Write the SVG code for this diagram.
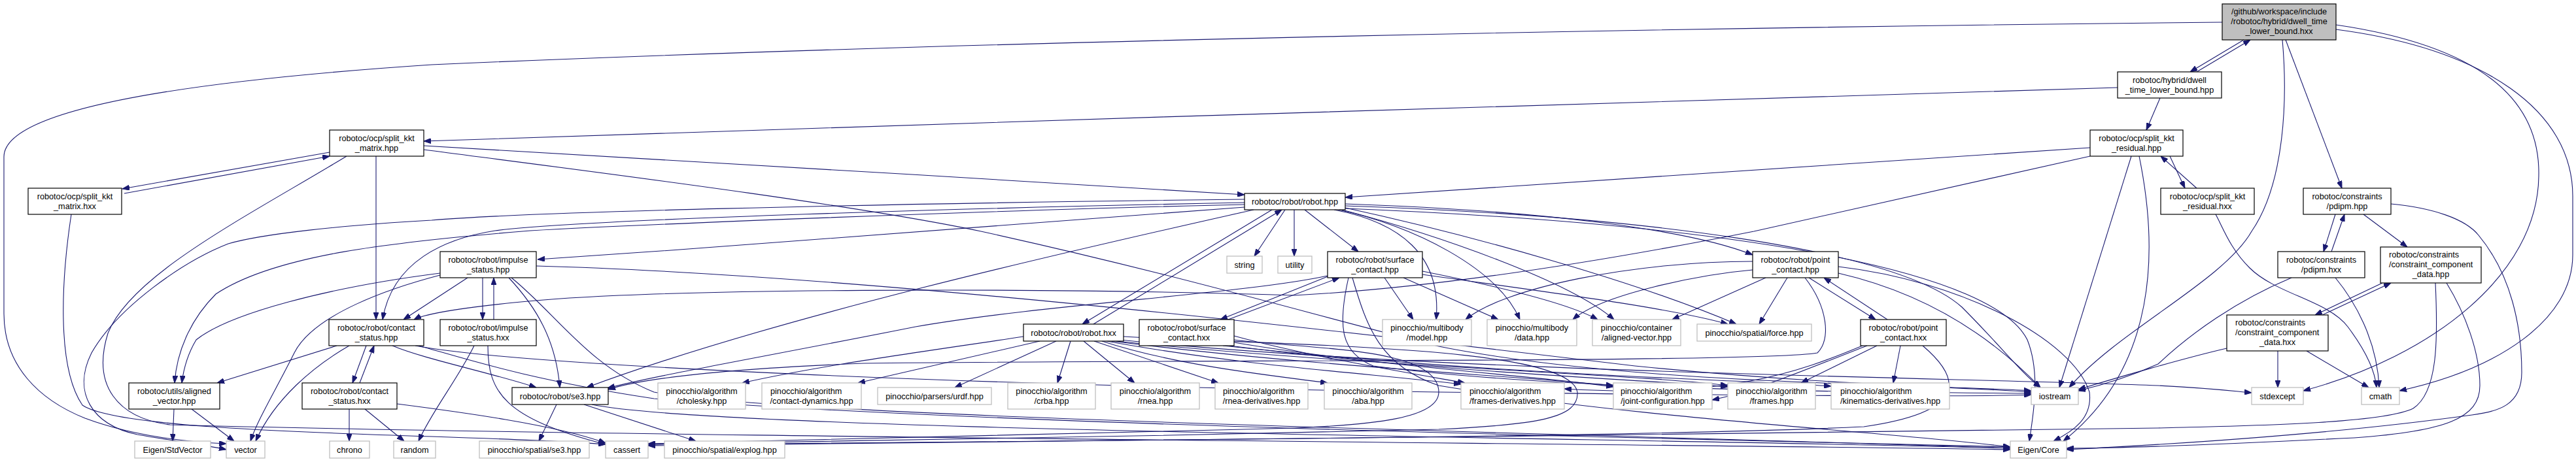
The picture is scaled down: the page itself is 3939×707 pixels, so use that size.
<svg xmlns="http://www.w3.org/2000/svg" width="3939" height="707" viewBox="0 0 3939 707">
<defs>
<marker id="ah" viewBox="0 0 11 8" refX="11" refY="4" markerWidth="11" markerHeight="8" markerUnits="userSpaceOnUse" orient="auto"><path d="M0,0L11,4L0,8z" fill="#191970" stroke="#191970" stroke-width="1"/></marker>
</defs>
<style>
.e path{fill:none;stroke:#191970;stroke-width:1.1;marker-end:url(#ah)}
rect.p{fill:#ffffff;stroke:#000000;stroke-width:1.2}
rect.x{fill:#ffffff;stroke:#bfbfbf;stroke-width:1.3}
rect.r{fill:#bfbfbf;stroke:#000000;stroke-width:1.2}
text{font-family:"Liberation Sans",Arial,Helvetica,sans-serif;font-size:12.7px;fill:#000000;text-anchor:middle}
text.l{text-anchor:start}
</style>
<rect x="0" y="0" width="3939" height="707" fill="#ffffff"/>
<g id="edges" class="e">
<path d="M3431,61 L3349,110"/>
<path d="M3359,110 L3441,61"/>
<path d="M3398,34 C2600,42 1500,62 660,99 C300,123 6,165 6,240 L6,480 C6,560 60,612 130,640 C200,666 280,676 346,679"/>
<path d="M3490,61 C3498,150 3494,280 3443,354 C3400,430 3240,505 3164,593"/>
<path d="M3495,61 L3581,288"/>
<path d="M3572,38 C3790,70 3885,150 3882,270 C3880,420 3720,545 3522,598"/>
<path d="M3572,45 C3800,75 3934,170 3934,300 L3934,390 C3934,490 3820,565 3669,598"/>
<path d="M3238,134 C2400,158 1500,188 648,216"/>
<path d="M3303,150 L3282,199"/>
<path d="M504,233 L187,289"/>
<path d="M190,296 L504,239"/>
<path d="M648,223 C1000,245 1500,272 1903,298"/>
<path d="M575,239 L575,489"/>
<path d="M530,239 C380,330 200,420 165,510 C140,590 180,640 260,650 C900,668 2600,680 3074,688"/>
<path d="M648,229 C900,262 1300,312 1500,354 C1800,420 2000,480 2200,530 C2500,590 2950,588 3106,598"/>
<path d="M109,328 C95,420 85,560 126,620 C170,650 400,660 660,668 C780,672 880,676 926,680"/>
<path d="M3196,226 C2700,258 2300,288 2057,302"/>
<path d="M3318,239 L3341,288"/>
<path d="M3359,288 L3304,239"/>
<path d="M3259,239 L3149,593"/>
<path d="M3271,239 C3300,380 3300,560 3155,675"/>
<path d="M3196,239 L2682,354 C2450,400 2200,440 1980,452 C1600,440 1000,440 786,463 C700,472 650,480 633,489"/>
<path d="M3388,328 C3400,350 3410,380 3440,410 C3480,450 3560,460 3590,500 C3620,540 3632,570 3634,593"/>
<path d="M3571,328 L3553,385"/>
<path d="M3565,385 L3585,328"/>
<path d="M3614,328 L3681,378"/>
<path d="M3656,312 C3720,318 3770,335 3790,360 C3840,420 3856,500 3856,570 C3856,620 3820,630 3780,635 C3600,660 3400,676 3160,688"/>
<path d="M3571,425 C3600,460 3635,520 3638,593"/>
<path d="M3504,425 C3420,460 3350,510 3300,557 C3260,575 3220,588 3178,598"/>
<path d="M3643,433 L3540,482"/>
<path d="M3551,482 L3656,433"/>
<path d="M3724,433 C3728,520 3728,600 3690,625 C3640,650 3400,652 3300,655 C2600,668 1500,672 991,682"/>
<path d="M3741,433 C3770,480 3792,540 3792,590 C3792,640 3740,660 3600,670 C3400,680 3250,686 3160,686"/>
<path d="M3483,537 L3483,593"/>
<path d="M3527,537 L3622,593"/>
<path d="M3405,533 C3340,548 3230,580 3178,596"/>
<path d="M1965,321 L1918,392"/>
<path d="M1979,321 L1979,392"/>
<path d="M1945,321 L1655,496"/>
<path d="M1672,496 L1960,321"/>
<path d="M1995,321 L2077,385"/>
<path d="M2040,321 C2140,340 2205,390 2196,489"/>
<path d="M2047,321 C2160,345 2290,410 2324,489"/>
<path d="M2052,321 C2200,360 2400,430 2468,489"/>
<path d="M2057,318 C2250,360 2500,430 2655,496"/>
<path d="M2057,312 C2350,322 2580,350 2680,390"/>
<path d="M2057,315 C2500,330 2900,380 3000,470 C3060,530 3090,570 3120,593"/>
<path d="M2057,319 C2700,345 3050,420 3100,520 C3120,570 3110,630 3103,675"/>
<path d="M1903,310 C1500,318 900,335 757,353 C680,365 600,400 585,489"/>
<path d="M1903,313 C1500,322 950,345 811,353 C600,370 420,390 330,450 C290,490 270,540 267,586"/>
<path d="M1903,317 C1600,340 1200,372 822,397"/>
<path d="M1917,321 C1700,370 1200,480 897,593"/>
<path d="M1903,305 C1300,312 800,325 660,337 C520,345 400,358 349,373 C280,400 180,470 140,540 C110,600 140,650 210,665 C260,674 310,680 346,688"/>
<path d="M738,425 L738,489"/>
<path d="M755,489 L755,425"/>
<path d="M715,425 L617,489"/>
<path d="M673,418 C500,440 350,480 300,520 C285,545 280,570 278,586"/>
<path d="M673,421 C600,440 480,480 450,540 C420,600 395,640 383,675"/>
<path d="M778,425 C820,470 850,520 856,593"/>
<path d="M782,425 C850,480 900,560 1000,600 C1200,640 2500,665 3074,686"/>
<path d="M820,407 C1300,420 2000,500 2500,560 C2800,590 3000,592 3106,600"/>
<path d="M560,529 L539,586"/>
<path d="M550,586 L572,529"/>
<path d="M515,529 L332,586"/>
<path d="M534,529 C480,560 420,610 391,675"/>
<path d="M600,529 C650,550 750,570 820,593"/>
<path d="M635,529 C800,560 1500,590 2200,600 C2700,605 3000,608 3106,604"/>
<path d="M640,529 C700,545 800,580 1000,610 C1500,650 2600,672 3074,684"/>
<path d="M725,529 C700,580 660,630 640,675"/>
<path d="M746,529 C746,600 770,640 926,680"/>
<path d="M534,626 L534,675"/>
<path d="M558,626 L618,675"/>
<path d="M607,618 C700,630 850,650 926,678"/>
<path d="M266,626 L264,675"/>
<path d="M293,626 L358,675"/>
<path d="M851,619 L824,675"/>
<path d="M893,619 L1064,675"/>
<path d="M905,619 C1100,660 2500,670 3074,686"/>
<path d="M1565,515 C1400,540 1250,560 1135,586"/>
<path d="M1590,522 L1312,586"/>
<path d="M1615,522 L1460,593"/>
<path d="M1637,522 L1617,586"/>
<path d="M1657,522 L1735,586"/>
<path d="M1673,522 L1863,586"/>
<path d="M1685,522 C1800,560 1950,575 2030,586"/>
<path d="M1692,522 C1900,560 2100,572 2234,588"/>
<path d="M1700,522 C2000,560 2300,574 2467,590"/>
<path d="M1706,522 C2100,562 2500,572 2642,590"/>
<path d="M1712,520 C2200,570 3000,578 3300,590 C3380,594 3410,598 3443,601"/>
<path d="M1718,515 C2000,530 2400,530 2412,600 C2415,640 2350,650 2200,657 C1800,667 1300,675 991,680"/>
<path d="M2033,422 L1866,489"/>
<path d="M1878,489 L2048,425"/>
<path d="M2117,425 L2161,489"/>
<path d="M2146,425 L2291,489"/>
<path d="M2175,415 C2300,440 2400,465 2443,489"/>
<path d="M2175,420 C2350,445 2550,470 2642,496"/>
<path d="M2030,422 C1900,450 1600,465 1400,500 C1200,540 1000,575 929,594"/>
<path d="M2062,425 C2045,500 2050,540 2100,560 C2400,600 2900,600 3106,602"/>
<path d="M2068,425 C2090,500 2110,560 2200,590 C2500,640 2900,662 3074,684"/>
<path d="M1887,520 C2000,535 2200,530 2200,600 C2200,640 2100,650 1980,655 C1600,665 1200,672 991,679"/>
<path d="M1887,514 C2000,545 2150,570 2240,586"/>
<path d="M1887,524 C2100,560 2350,575 2467,592"/>
<path d="M1880,529 C2200,570 2500,580 2642,592"/>
<path d="M1870,529 C2300,575 2650,580 2800,591"/>
<path d="M2766,425 L2868,489"/>
<path d="M2886,489 L2789,425"/>
<path d="M2733,425 L2690,496"/>
<path d="M2680,400 C2500,400 2300,440 2241,489"/>
<path d="M2680,413 C2600,420 2450,450 2405,489"/>
<path d="M2700,425 L2557,489"/>
<path d="M2760,425 C2795,470 2800,520 2779,540 C2700,555 1800,550 1320,556 C1100,565 980,580 930,596"/>
<path d="M2811,418 C2950,450 3050,520 3120,593"/>
<path d="M2811,408 C3000,430 3170,520 3195,600 C3200,640 3170,660 3140,675"/>
<path d="M2870,529 L2754,586"/>
<path d="M2906,529 L2895,586"/>
<path d="M2940,529 C3000,580 3010,630 2850,653 C2500,670 1500,675 991,681"/>
<path d="M2855,529 C2750,570 2680,600 2618,612"/>
<path d="M2848,529 C2750,570 2640,610 2392,595"/>
</g>
<g id="n0"><rect class="r" x="3398" y="6" width="174" height="55"/><text x="3485" y="22">/github/workspace/include</text><text x="3485" y="37">/robotoc/hybrid/dwell_time</text><text x="3485" y="52">_lower_bound.hxx</text></g>
<g id="n1"><rect class="p" x="3238" y="110" width="159" height="40"/><text x="3317.5" y="127">robotoc/hybrid/dwell</text><text x="3317.5" y="142">_time_lower_bound.hpp</text></g>
<g id="n2"><rect class="p" x="504" y="199" width="144" height="40"/><text x="576" y="216">robotoc/ocp/split_kkt</text><text x="576" y="231">_matrix.hpp</text></g>
<g id="n3"><rect class="p" x="3196" y="199" width="142" height="40"/><text x="3267" y="216">robotoc/ocp/split_kkt</text><text x="3267" y="231">_residual.hpp</text></g>
<g id="n4"><rect class="p" x="43" y="288" width="143" height="40"/><text x="114.5" y="305">robotoc/ocp/split_kkt</text><text x="114.5" y="320">_matrix.hxx</text></g>
<g id="n5"><rect class="p" x="1903" y="296" width="154" height="25"/><text x="1980" y="313">robotoc/robot/robot.hpp</text></g>
<g id="n6"><rect class="p" x="3304" y="288" width="143" height="40"/><text x="3375.5" y="305">robotoc/ocp/split_kkt</text><text x="3375.5" y="320">_residual.hxx</text></g>
<g id="n7"><rect class="p" x="3522" y="288" width="134" height="40"/><text x="3589" y="305">robotoc/constraints</text><text x="3589" y="320">/pdipm.hpp</text></g>
<g id="n8"><rect class="p" x="673" y="385" width="147" height="40"/><text x="746.5" y="402">robotoc/robot/impulse</text><text x="746.5" y="417">_status.hpp</text></g>
<g id="n9"><rect class="x" x="1876" y="392" width="54" height="26"/><text x="1903" y="409.5">string</text></g>
<g id="n10"><rect class="x" x="1954" y="392" width="52" height="26"/><text x="1980" y="409.5">utility</text></g>
<g id="n11"><rect class="p" x="2030" y="385" width="145" height="40"/><text x="2102.5" y="402">robotoc/robot/surface</text><text x="2102.5" y="417">_contact.hpp</text></g>
<g id="n12"><rect class="p" x="2680" y="385" width="131" height="40"/><text x="2745.5" y="402">robotoc/robot/point</text><text x="2745.5" y="417">_contact.hpp</text></g>
<g id="n13"><rect class="p" x="3483" y="385" width="133" height="40"/><text x="3549.5" y="402">robotoc/constraints</text><text x="3549.5" y="417">/pdipm.hxx</text></g>
<g id="n14"><rect class="p" x="3640" y="378" width="154" height="55"/><text class="l" x="3653" y="394">robotoc/constraints</text><text class="l" x="3653" y="409">/constraint_component</text><text x="3717" y="424">_data.hpp</text></g>
<g id="n15"><rect class="p" x="503" y="489" width="145" height="40"/><text x="575.5" y="506">robotoc/robot/contact</text><text x="575.5" y="521">_status.hpp</text></g>
<g id="n16"><rect class="p" x="673" y="489" width="147" height="40"/><text x="746.5" y="506">robotoc/robot/impulse</text><text x="746.5" y="521">_status.hxx</text></g>
<g id="n17"><rect class="p" x="1565" y="496" width="153" height="26"/><text x="1641.5" y="513.5">robotoc/robot/robot.hxx</text></g>
<g id="n18"><rect class="p" x="1742" y="489" width="145" height="40"/><text x="1814.5" y="506">robotoc/robot/surface</text><text x="1814.5" y="521">_contact.hxx</text></g>
<g id="n19"><rect class="x" x="2114" y="489" width="136" height="40"/><text x="2182" y="506">pinocchio/multibody</text><text x="2182" y="521">/model.hpp</text></g>
<g id="n20"><rect class="x" x="2274" y="489" width="137" height="40"/><text x="2342.5" y="506">pinocchio/multibody</text><text x="2342.5" y="521">/data.hpp</text></g>
<g id="n21"><rect class="x" x="2435" y="489" width="135" height="40"/><text x="2502.5" y="506">pinocchio/container</text><text x="2502.5" y="521">/aligned-vector.hpp</text></g>
<g id="n22"><rect class="x" x="2595" y="496" width="175" height="26"/><text x="2682.5" y="513.5">pinocchio/spatial/force.hpp</text></g>
<g id="n23"><rect class="p" x="2845" y="489" width="131" height="40"/><text x="2910.5" y="506">robotoc/robot/point</text><text x="2910.5" y="521">_contact.hxx</text></g>
<g id="n24"><rect class="p" x="3405" y="482" width="155" height="55"/><text class="l" x="3418" y="498">robotoc/constraints</text><text class="l" x="3418" y="513">/constraint_component</text><text x="3482.5" y="528">_data.hxx</text></g>
<g id="n25"><rect class="p" x="197" y="586" width="139" height="40"/><text x="266.5" y="603">robotoc/utils/aligned</text><text x="266.5" y="618">_vector.hpp</text></g>
<g id="n26"><rect class="p" x="462" y="586" width="145" height="40"/><text x="534.5" y="603">robotoc/robot/contact</text><text x="534.5" y="618">_status.hxx</text></g>
<g id="n27"><rect class="p" x="783" y="593" width="147" height="26"/><text x="856.5" y="610.5">robotoc/robot/se3.hpp</text></g>
<g id="n28"><rect class="x" x="1006" y="586" width="134" height="40"/><text x="1073" y="603">pinocchio/algorithm</text><text x="1073" y="618">/cholesky.hpp</text></g>
<g id="n29"><rect class="x" x="1165" y="586" width="152" height="40"/><text class="l" x="1178" y="603">pinocchio/algorithm</text><text x="1241" y="618">/contact-dynamics.hpp</text></g>
<g id="n30"><rect class="x" x="1342" y="593" width="174" height="26"/><text x="1429" y="610.5">pinocchio/parsers/urdf.hpp</text></g>
<g id="n31"><rect class="x" x="1541" y="586" width="134" height="40"/><text x="1608" y="603">pinocchio/algorithm</text><text x="1608" y="618">/crba.hpp</text></g>
<g id="n32"><rect class="x" x="1699" y="586" width="135" height="40"/><text x="1766.5" y="603">pinocchio/algorithm</text><text x="1766.5" y="618">/rnea.hpp</text></g>
<g id="n33"><rect class="x" x="1858" y="586" width="142" height="40"/><text class="l" x="1870" y="603">pinocchio/algorithm</text><text x="1929" y="618">/rnea-derivatives.hpp</text></g>
<g id="n34"><rect class="x" x="2025" y="586" width="134" height="40"/><text x="2092" y="603">pinocchio/algorithm</text><text x="2092" y="618">/aba.hpp</text></g>
<g id="n35"><rect class="x" x="2234" y="586" width="158" height="40"/><text class="l" x="2247" y="603">pinocchio/algorithm</text><text x="2313" y="618">/frames-derivatives.hpp</text></g>
<g id="n36"><rect class="x" x="2467" y="586" width="151" height="40"/><text class="l" x="2478" y="603">pinocchio/algorithm</text><text x="2542.5" y="618">/joint-configuration.hpp</text></g>
<g id="n37"><rect class="x" x="2642" y="586" width="134" height="40"/><text x="2709" y="603">pinocchio/algorithm</text><text x="2709" y="618">/frames.hpp</text></g>
<g id="n38"><rect class="x" x="2800" y="586" width="181" height="40"/><text class="l" x="2814" y="603">pinocchio/algorithm</text><text x="2890.5" y="618">/kinematics-derivatives.hpp</text></g>
<g id="n39"><rect class="x" x="3106" y="593" width="72" height="26"/><text x="3142" y="610.5">iostream</text></g>
<g id="n40"><rect class="x" x="3443" y="593" width="79" height="26"/><text x="3482.5" y="610.5">stdexcept</text></g>
<g id="n41"><rect class="x" x="3611" y="593" width="58" height="26"/><text x="3640" y="610.5">cmath</text></g>
<g id="n42"><rect class="x" x="206" y="675" width="116" height="26"/><text x="264" y="692.5">Eigen/StdVector</text></g>
<g id="n43"><rect class="x" x="346" y="675" width="59" height="26"/><text x="375.5" y="692.5">vector</text></g>
<g id="n44"><rect class="x" x="504" y="675" width="61" height="26"/><text x="534.5" y="692.5">chrono</text></g>
<g id="n45"><rect class="x" x="602" y="675" width="64" height="26"/><text x="634" y="692.5">random</text></g>
<g id="n46"><rect class="x" x="733" y="675" width="168" height="26"/><text x="817" y="692.5">pinocchio/spatial/se3.hpp</text></g>
<g id="n47"><rect class="x" x="926" y="675" width="65" height="26"/><text x="958.5" y="692.5">cassert</text></g>
<g id="n48"><rect class="x" x="1016" y="675" width="184" height="26"/><text x="1108" y="692.5">pinocchio/spatial/explog.hpp</text></g>
<g id="n49"><rect class="x" x="3074" y="675" width="86" height="26"/><text x="3117" y="692.5">Eigen/Core</text></g>
</svg>
